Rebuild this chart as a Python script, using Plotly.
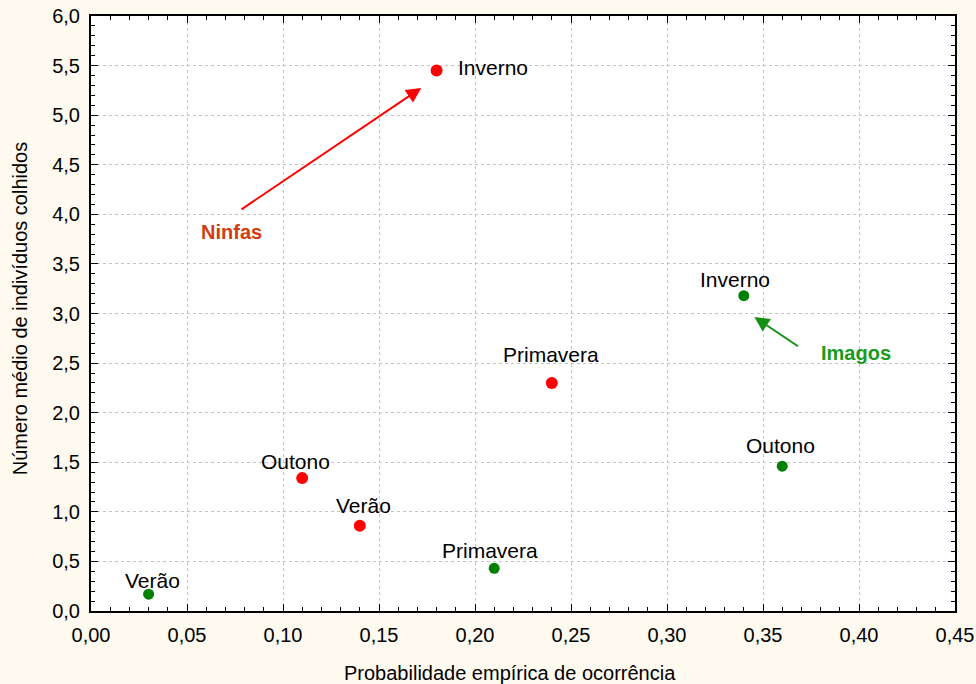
import plotly.graph_objects as go

seasons_n = ["Inverno", "Primavera", "Outono", "Verão"]
ninfas_x = [0.18, 0.24, 0.11, 0.14]
ninfas_y = [5.45, 2.30, 1.34, 0.86]

seasons_i = ["Inverno", "Outono", "Primavera", "Verão"]
imagos_x = [0.34, 0.36, 0.21, 0.03]
imagos_y = [3.18, 1.46, 0.43, 0.17]

# label offsets in pixels (xshift, yshift)
ninfas_label_shift = [(56, 3), (-1, 28), (-7, 17), (4, 20)]
imagos_label_shift = [(-9, 16), (-2, 21), (-4, 18), (4, 14)]

font = "Liberation Sans, Arial, sans-serif"
FS = 20
LFS = 21

fig = go.Figure()
fig.add_trace(go.Scatter(
    x=ninfas_x, y=ninfas_y, mode="markers", marker=dict(color="#ff0000", size=12),
    showlegend=False, cliponaxis=False, hoverinfo="x+y"))
fig.add_trace(go.Scatter(
    x=imagos_x, y=imagos_y, mode="markers", marker=dict(color="#008000", size=11),
    showlegend=False, cliponaxis=False, hoverinfo="x+y"))

for names, xs, ys, shifts in [(seasons_n, ninfas_x, ninfas_y, ninfas_label_shift),
                              (seasons_i, imagos_x, imagos_y, imagos_label_shift)]:
    for n, x, y, (dx, dy) in zip(names, xs, ys, shifts):
        fig.add_annotation(x=x, y=y, text=n, showarrow=False, xshift=dx, yshift=dy,
                           font=dict(size=LFS, color="black", family=font))

fig.add_annotation(x=0.172, y=5.275, ax=0.0776, ay=4.04, xref="x", yref="y", axref="x", ayref="y",
                   text="", showarrow=True, arrowhead=2, arrowsize=1.5, arrowwidth=2, arrowcolor="#ff0000")
fig.add_annotation(x=0.0734, y=3.82, text="<b>Ninfas</b>", showarrow=False,
                   font=dict(size=FS, color="#d23c0f", family=font))
fig.add_annotation(x=0.3455, y=2.965, ax=0.369, ay=2.66, xref="x", yref="y", axref="x", ayref="y",
                   text="", showarrow=True, arrowhead=2, arrowsize=1.5, arrowwidth=2, arrowcolor="#138f13")
fig.add_annotation(x=0.3984, y=2.60, text="<b>Imagos</b>", showarrow=False,
                   font=dict(size=FS, color="#1a9a1a", family=font))

# axis titles
fig.add_annotation(x=0.485, y=-0.104, xref="paper", yref="paper", showarrow=False,
                   xanchor="center", yanchor="middle",
                   text="Probabilidade empírica de ocorrência",
                   font=dict(size=FS, color="black", family=font))
fig.add_annotation(x=-0.082, y=0.509, xref="paper", yref="paper", showarrow=False, textangle=-90,
                   xanchor="center", yanchor="middle",
                   text="Número médio de indivíduos colhidos",
                   font=dict(size=FS, color="black", family=font))

axis_common = dict(showline=True, linecolor="black", linewidth=2, mirror="ticks",
                   ticks="inside", ticklen=7, tickcolor="black", tickwidth=1,
                   showgrid=True, gridcolor="#c4c4c4", griddash="dot", gridwidth=1,
                   zeroline=False, automargin=False,
                   tickfont=dict(size=FS, color="black", family=font))

fig.update_xaxes(range=[0, 0.45], dtick=0.05, tickformat=".2f", ticklabelstandoff=5,
                 minor=dict(dtick=0.01, ticks="inside", ticklen=4, tickcolor="black", showgrid=False),
                 **axis_common)
fig.update_yaxes(range=[0, 6], dtick=0.5, tickformat=".1f", ticklabelstandoff=5,
                 minor=dict(dtick=0.1, ticks="inside", ticklen=4, tickcolor="black", showgrid=False),
                 **axis_common)

fig.update_layout(width=976, height=684, margin=dict(l=91, r=21, t=16, b=73, autoexpand=False),
                  paper_bgcolor="#fefaf0", plot_bgcolor="white", separators=",.",
                  font=dict(family=font, size=FS, color="black"))

fig.write_html("out.html", config={"displayModeBar": False},
               post_script="document.body.style.margin='0';")
